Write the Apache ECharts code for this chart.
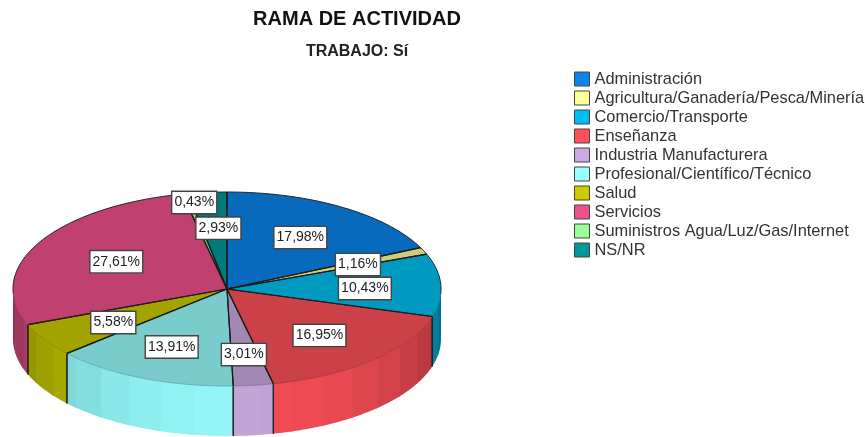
<!DOCTYPE html>
<html><head><meta charset="utf-8">
<style>html,body{margin:0;padding:0;background:#fff}#c{width:865px;height:437px}</style>
<script src="https://cdn.jsdelivr.net/npm/echarts@6/dist/echarts.min.js"></script>
</head><body><div id="c"></div>
<script>
const categories = ['Administración','Agricultura/Ganadería/Pesca/Minería','Comercio/Transporte','Enseñanza','Industria Manufacturera','Profesional/Científico/Técnico','Salud','Servicios','Suministros Agua/Luz/Gas/Internet','NS/NR'];
const values = [17.98,1.16,10.43,16.95,3.01,13.91,5.58,27.61,0.43,2.93];
const colors = ['#0A85EC','#FFFF99','#00BFF0','#FF505A','#CCAAE0','#99FFFF','#CCCC00','#F0508C','#99FF99','#009999'];
const titleText = 'RAMA DE ACTIVIDAD';
const subtitleText = 'TRABAJO: Sí';

const cx = 227, cy = 289, rx = 214, ry = 97, depth = 50;
const labelNudge = [[0,1],[5,0],[1,2],[-1,1],[0,4],[-1,1],[3,1],[10,2],[0,1],[4,1]];
const total = values.reduce((a, b) => a + b, 0);
const starts = values.map((_, i) => values.slice(0, i).reduce((a, b) => a + b, 0));
const rad = d => d * Math.PI / 180;
const px = t => cx + rx * Math.sin(rad(t));
const py = t => cy - ry * Math.cos(rad(t));
function shade(hex, f) {
  const n = parseInt(hex.slice(1), 16);
  return 'rgb(' + [(n >> 16) & 255, (n >> 8) & 255, n & 255].map(c => Math.round(c * f)).join(',') + ')';
}
function arc(a, b, step) {
  const p = [];
  for (let t = a; t < b; t += step) p.push([px(t), py(t)]);
  p.push([px(b), py(b)]);
  return p;
}
const fmt = v => v.toFixed(2).replace('.', ',') + '%';

function renderSlice(idx) {
  return function (params, api) {
    const v = api.value(0);
    const a = starts[idx] / total * 360, b = (starts[idx] + v) / total * 360;
    const col = colors[idx];
    const kids = [];
    const s0 = Math.max(a, 90), s1 = Math.min(b, 270);
    if (s1 > s0) {
      const bandW = 9;
      let t = s0, n = 0;
      while (t < s1) {
        const nxt = Math.min(s1, (Math.floor(t / bandW) + 1) * bandW);
        const mid = (t + nxt) / 2;
        const f = 0.58 + 0.38 * Math.cos(rad(mid - 180));
        const top = arc(t, Math.min(s1, nxt + 0.8), 0.5);
        const bot = top.slice().reverse().map(p => [p[0], p[1] + depth]);
        kids.push({type: 'polygon', z2: 10 + n, shape: {points: top.concat(bot)}, style: {fill: shade(col, f)}});
        t = nxt; n++;
      }
      [a, b].forEach(e => {
        if (e >= 90 && e <= 270) kids.push({type: 'line', z2: 60,
          shape: {x1: px(e), y1: py(e), x2: px(e), y2: py(e) + depth},
          style: {stroke: '#222', lineWidth: 1.2}});
      });
    }
    const rim = arc(a, b, 1);
    kids.push({type: 'polygon', z2: 70, shape: {points: [[cx, cy]].concat(rim)}, style: {fill: shade(col, 0.8)}});
    for (let i = 0; i < rim.length - 1; i++) {
      const t = a + i;
      const back = Math.cos(rad(t)) > -0.05;
      kids.push({type: 'line', z2: 72,
        shape: {x1: rim[i][0], y1: rim[i][1], x2: rim[i + 1][0], y2: rim[i + 1][1]},
        style: {stroke: back ? '#222' : shade(col, 0.68), lineWidth: 1}});
    }
    [a, b].forEach(e => kids.push({type: 'line', z2: 74,
      shape: {x1: cx, y1: cy, x2: px(e), y2: py(e)},
      style: {stroke: '#1c1c1c', lineWidth: 1.2}}));
    const m = (a + b) / 2;
    const small = v < 1;
    const fx = small ? 0.78 : 0.64, fy = small ? 0.92 : 0.64;
    kids.push({type: 'text', z2: 90, style: {
      text: fmt(v),
      x: cx + rx * fx * Math.sin(rad(m)) + labelNudge[idx][0],
      y: cy - ry * fy * Math.cos(rad(m)) + labelNudge[idx][1],
      align: 'center', verticalAlign: 'middle',
      font: '14px "Liberation Sans", Arial, sans-serif', fill: '#222',
      backgroundColor: '#fff', borderColor: '#444', borderWidth: 1.4, padding: [4, 2, 3, 2]
    }});
    return {type: 'group', children: kids};
  };
}

const chart = echarts.init(document.getElementById('c'), null, {renderer: 'canvas'});
chart.setOption({
  animation: false,
  backgroundColor: '#fff',
  title: {
    text: titleText, subtext: subtitleText, left: 357, top: 8, padding: 0, textAlign: 'center', itemGap: 13,
    textStyle: {fontFamily: '"Liberation Sans", Arial, sans-serif', fontSize: 20, lineHeight: 22, fontWeight: 'bold', color: '#111'},
    subtextStyle: {fontFamily: '"Liberation Sans", Arial, sans-serif', fontSize: 16, lineHeight: 18, fontWeight: 'bold', color: '#222'}
  },
  legend: {
    orient: 'vertical', left: 574, top: 71, padding: 0, itemWidth: 15, itemHeight: 14, itemGap: 3,
    selectedMode: false, icon: 'rect', data: categories,
    itemStyle: {borderColor: '#444', borderWidth: 1},
    textStyle: {fontFamily: '"Liberation Sans", Arial, sans-serif', fontSize: 16.4, lineHeight: 14, color: '#333'}
  },
  series: categories.map((name, i) => ({
    type: 'custom', name, coordinateSystem: 'none', silent: true,
    itemStyle: {color: colors[i]},
    data: [[values[i]]],
    renderItem: renderSlice(i)
  }))
});
</script></body></html>
